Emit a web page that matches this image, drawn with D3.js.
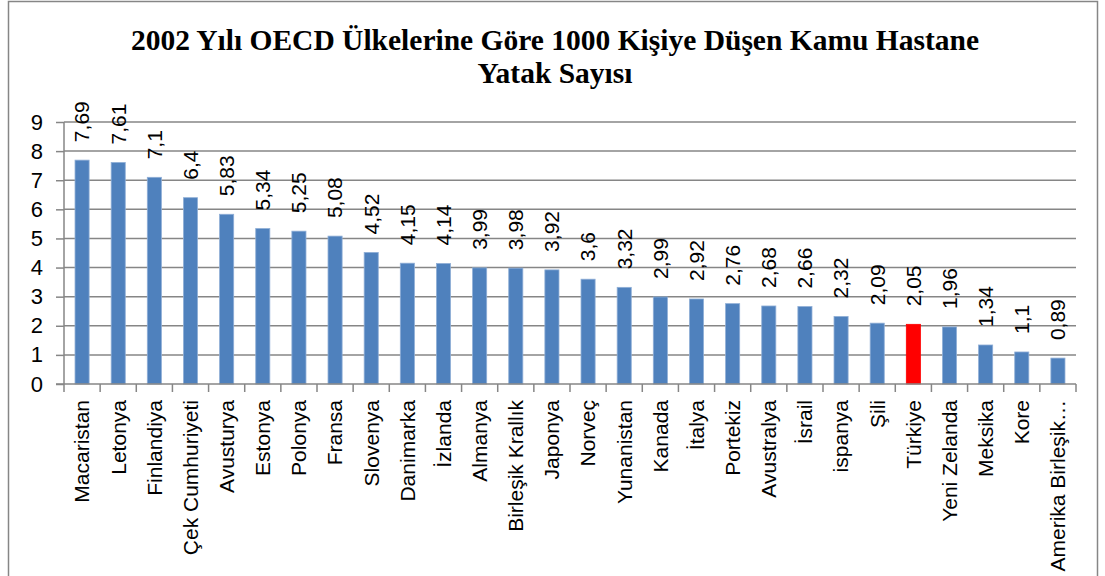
<!DOCTYPE html>
<html lang="tr">
<head>
    <meta charset="UTF-8">
    <title>Kamu Hastane Yatak Sayısı</title>
    <script src="https://cdn.jsdelivr.net/npm/d3@7"></script>
    <style>
        body { margin: 0; background: #fff; }
        svg text { fill: #000; }
    </style>
</head>
<body>
<div id="chart"></div>
<script>
    // 2002 OECD - public hospital beds per 1000 people
    const countries = ["Macaristan", "Letonya", "Finlandiya", "Çek Cumhuriyeti", "Avusturya", "Estonya",
        "Polonya", "Fransa", "Slovenya", "Danimarka", "İzlanda", "Almanya", "Birleşik Krallık", "Japonya",
        "Norveç", "Yunanistan", "Kanada", "İtalya", "Portekiz", "Avustralya", "İsrail", "ispanya", "Şili",
        "Türkiye", "Yeni Zelanda", "Meksika", "Kore", "Amerika Birleşik…"];
    const beds = [7.69, 7.61, 7.1, 6.4, 5.83, 5.34, 5.25, 5.08, 4.52, 4.15, 4.14, 3.99, 3.98, 3.92,
        3.6, 3.32, 2.99, 2.92, 2.76, 2.68, 2.66, 2.32, 2.09, 2.05, 1.96, 1.34, 1.1, 0.89];
    const yTicks = [0, 1, 2, 3, 4, 5, 6, 7, 8, 9];
    const highlight = "Türkiye";

    const width = 1105, height = 576;
    const margin = { top: 122, right: 29, bottom: 192, left: 64 };
    const font = "'Liberation Sans', Arial, sans-serif";

    const data = countries.map((c, i) => ({ name: c, value: beds[i] }));

    const svg = d3.select("#chart").append("svg")
        .attr("width", width)
        .attr("height", height);

    // chart border
    svg.append("rect")
        .attr("x", 8.5).attr("y", 1.5)
        .attr("width", 1089).attr("height", 590)
        .attr("fill", "#fff")
        .attr("stroke", "#868686")
        .attr("stroke-width", 1.5);

    const x = d3.scaleBand()
        .domain(countries)
        .range([margin.left, width - margin.right])
        .paddingInner(0.61)
        .paddingOuter(0.305);

    const y = d3.scaleLinear()
        .domain([0, 9])
        .range([height - margin.bottom, margin.top]);

    // title
    const title = svg.append("text")
        .attr("text-anchor", "middle")
        .attr("font-family", "'Liberation Serif', 'Times New Roman', serif")
        .attr("font-weight", "bold")
        .attr("font-size", 29.5);
    title.append("tspan").attr("x", 555).attr("y", 50)
        .text("2002 Yılı OECD Ülkelerine Göre 1000 Kişiye Düşen Kamu Hastane");
    title.append("tspan").attr("x", 555).attr("y", 83)
        .text("Yatak Sayısı");

    // gridlines
    svg.append("g")
        .selectAll("line")
        .data(yTicks.slice(1))
        .join("line")
        .attr("x1", margin.left)
        .attr("x2", width - margin.right)
        .attr("y1", d => y(d))
        .attr("y2", d => y(d))
        .attr("stroke", "#868686")
        .attr("stroke-width", 1.5);

    // bars
    svg.append("g")
        .selectAll("rect")
        .data(data)
        .join("rect")
        .attr("x", d => x(d.name))
        .attr("y", d => y(d.value))
        .attr("width", x.bandwidth())
        .attr("height", d => y(0) - y(d.value))
        .attr("fill", d => d.name === highlight ? "#FF0000" : "#4F81BD")
        .attr("stroke", d => d.name === highlight ? "#FF0000" : "#8FAEd6")
        .attr("stroke-width", 0.8);

    // y axis
    const yAxis = d3.axisLeft(y)
        .tickValues(yTicks)
        .tickSize(8)
        .tickPadding(13);
    const gy = svg.append("g")
        .attr("transform", `translate(${margin.left}, 0)`)
        .call(yAxis);
    gy.select(".domain").attr("stroke", "#868686").attr("stroke-width", 1.5)
        .attr("d", `M0,${y(9)}V${y(0)}`);
    gy.selectAll(".tick line").attr("stroke", "#868686").attr("stroke-width", 1.5);
    gy.selectAll(".tick text")
        .attr("font-family", font)
        .attr("font-size", 22);

    // x axis line and category tick marks
    const xBottom = y(0);
    const step = x.step();
    const edges = d3.range(countries.length + 1).map(i => margin.left + i * step);
    svg.append("line")
        .attr("x1", margin.left - 8).attr("x2", width - margin.right)
        .attr("y1", xBottom).attr("y2", xBottom)
        .attr("stroke", "#868686").attr("stroke-width", 1.5);
    svg.append("g")
        .selectAll("line")
        .data(edges)
        .join("line")
        .attr("x1", d => d).attr("x2", d => d)
        .attr("y1", xBottom).attr("y2", xBottom + 8)
        .attr("stroke", "#868686").attr("stroke-width", 1.5);

    // category labels
    svg.append("g")
        .selectAll("text")
        .data(countries)
        .join("text")
        .attr("transform", d => `translate(${x(d) + x.bandwidth() / 2}, ${xBottom + 16}) rotate(-90)`)
        .attr("text-anchor", "end")
        .attr("dy", "0.35em")
        .attr("font-family", font)
        .attr("font-size", 21)
        .text(d => d);

    // value labels
    svg.append("g")
        .selectAll("text")
        .data(data)
        .join("text")
        .attr("transform", d => `translate(${x(d.name) + x.bandwidth() / 2}, ${y(d.value) - 18}) rotate(-90)`)
        .attr("text-anchor", "start")
        .attr("dy", "0.35em")
        .attr("font-family", font)
        .attr("font-size", 21)
        .text(d => String(d.value).replace(".", ","));
</script>
</body>
</html>
